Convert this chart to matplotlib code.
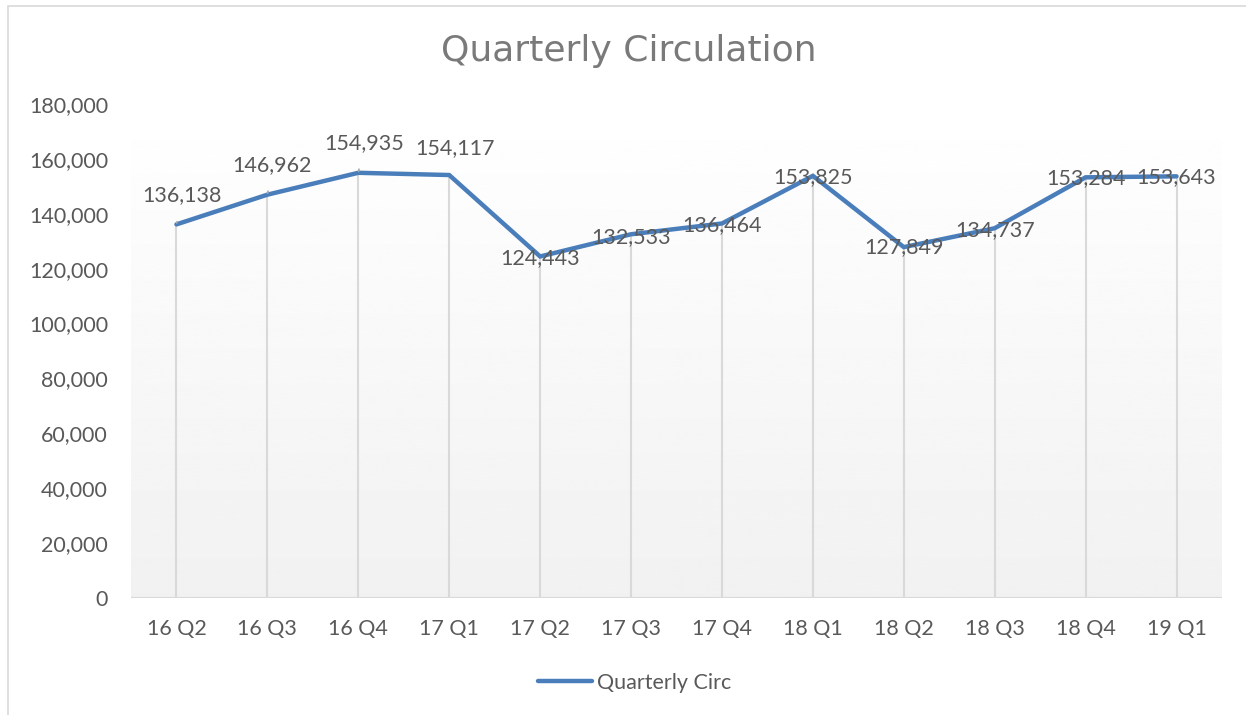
import numpy as np
import matplotlib.pyplot as plt
from matplotlib.patches import Rectangle
from matplotlib.lines import Line2D

# data
quarters = ['16 Q2', '16 Q3', '16 Q4', '17 Q1', '17 Q2', '17 Q3',
            '17 Q4', '18 Q1', '18 Q2', '18 Q3', '18 Q4', '19 Q1']
circ = [136138, 146962, 154935, 154117, 124443, 132533,
        136464, 153825, 127849, 134737, 153284, 153643]
y_ticks = [0, 20000, 40000, 60000, 80000, 100000, 120000, 140000, 160000, 180000]

plt.rcParams['font.family'] = ['Lato', 'DejaVu Sans']
text_col = '#595959'
line_col = '#4a7ebb'

fig = plt.figure(figsize=(12.46, 7.15), dpi=100)

# outer chart border (cropped at right / bottom)
fig.patches.append(Rectangle((8 / 1246, -0.1), 1.2, 1 - 6 / 715 + 0.1,
                             transform=fig.transFigure, fill=False,
                             edgecolor='#d9d9d9', linewidth=1.2))

ax = fig.add_axes([131 / 1246, 1 - 598 / 715, 1091 / 1246, 494 / 715])
x = np.arange(len(quarters))
ax.set_xlim(-0.5, len(quarters) - 0.5)
ax.set_ylim(0, 180000)

# gradient plot area
grad = np.linspace(1.0, 0.945, 256).reshape(-1, 1)
ax.imshow(grad, cmap='gray', vmin=0, vmax=1, aspect='auto',
          extent=(-0.5, len(quarters) - 0.5, 0, 180000), zorder=0)

# drop lines
ax.vlines(x, 0, circ, color='#d9d9d9', linewidth=1.5, zorder=1)
ax.axhline(0, color='#d9d9d9', linewidth=1.5, zorder=1)

ax.plot(x, circ, color=line_col, linewidth=3.2, solid_joinstyle='miter',
        solid_capstyle='round', zorder=3)

# data labels (first four moved up like the original)
offsets = [(6, 29), (5, 30), (6, 30), (6, 27), (0, -2), (0, -3),
           (0, -2), (0, -1), (0, 0), (0, -2), (0, -1), (0, -1)]
for i, (v, off) in enumerate(zip(circ, offsets)):
    props = None
    if i < 3:
        props = dict(arrowstyle='-', color='#a6a6a6', lw=1.2,
                     shrinkA=10, shrinkB=1)
    ax.annotate(f'{v:,}', (x[i], v), xytext=off, textcoords='offset pixels',
                ha='center', va='center', fontsize=15.5, color=text_col,
                arrowprops=props, zorder=4)

ax.set_xticks(x)
ax.set_xticklabels(quarters)
ax.set_yticks(y_ticks)
ax.set_yticklabels([f'{t:,}' for t in y_ticks])
ax.tick_params(length=0, labelsize=15.5, labelcolor=text_col)
ax.tick_params(axis='x', pad=15)
ax.tick_params(axis='y', pad=16.5)
for s in ax.spines.values():
    s.set_visible(False)

fig.text(629 / 1246, 1 - 51 / 715, 'Quarterly Circulation', ha='center',
         va='center', fontsize=26, color='#7a7a7a', family='DejaVu Sans')

handle = Line2D([], [], color=line_col, linewidth=3.2, solid_capstyle='round')
fig.legend([handle], ['Quarterly Circ'], loc='center',
           bbox_to_anchor=(635 / 1246, 1 - 683 / 715), frameon=False,
           fontsize=15.5, labelcolor=text_col, handlelength=2.5,
           handletextpad=0.25)

fig.savefig('out.png', dpi=100)
